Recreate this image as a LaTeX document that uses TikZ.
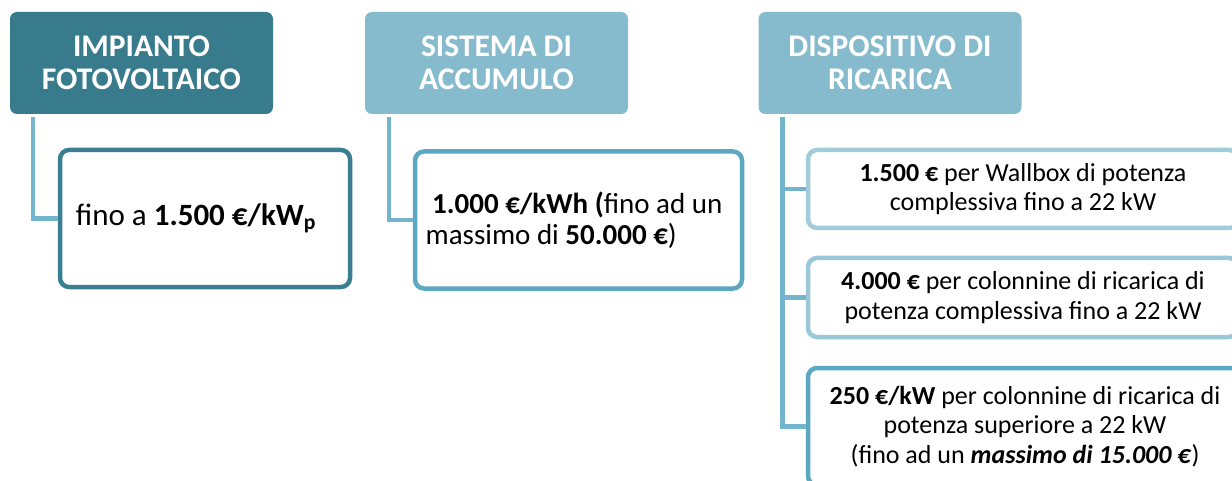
\documentclass[tikz,border=0pt]{standalone}
\usepackage{fontspec}
\setmainfont{Carlito}
\usetikzlibrary{calc}
\definecolor{hdark}{HTML}{377B8D}
\definecolor{hlight}{HTML}{86BBCE}
\definecolor{conn}{HTML}{72B5CD}
\definecolor{bdark}{HTML}{3A7F91}
\definecolor{bmid}{HTML}{5DA8C1}
\definecolor{bpale}{HTML}{A2CCDA}
\definecolor{bpale2}{HTML}{9AC8D7}
\tikzset{
  x=1pt, y=-1pt,
  header/.style={rectangle, rounded corners=7pt, inner sep=0pt, minimum width=263pt, minimum height=102pt,
    text=white, font=\fontsize{31.5}{32.5}\selectfont\bfseries, align=center},
  childbox/.style={rectangle, rounded corners=9pt, draw, line width=4.5pt, fill=white, inner sep=0pt,
    font=\fontsize{26}{29.5}\selectfont, text=black},
  conline/.style={draw=conn, line width=4.5pt},
}
\begin{document}
\begin{tikzpicture}
\useasboundingbox (0,0) rectangle (1232,481);
% headers
\node[header, fill=hdark] (h1) at (141.5,63) {IMPIANTO\\FOTOVOLTAICO};
\node[header, fill=hlight] (h2) at (496.5,63) {SISTEMA DI\\ACCUMULO};
\node[header, fill=hlight] (h3) at (890,63) {DISPOSITIVO DI\\RICARICA};
% children
\node[childbox, draw=bdark, minimum width=290pt, minimum height=137pt, font=\fontsize{31}{34}\selectfont] (c1) at (205,218.5)
  {fino a \textbf{1.500 €/kW\textsubscript{p}}\hspace*{18pt}};
\node[childbox, draw=bmid, minimum width=327pt, minimum height=137pt, align=left,
  font=\fontsize{29}{31.5}\selectfont] (c2) at (578.5,220)
  {\ \textbf{1.000 €/kWh (}fino ad un\hspace*{9pt}\\massimo di \textbf{50.000 €})};
\node[childbox, draw=bpale, minimum width=430pt, minimum height=78pt, align=center] (c3a) at (1023,189)
  {\textbf{1.500 €} per Wallbox di potenza\\complessiva fino a 22 kW};
\node[childbox, draw=bpale2, minimum width=430pt, minimum height=79pt, align=center] (c3b) at (1023,297.5)
  {\textbf{4.000 €} per colonnine di ricarica di\\potenza complessiva fino a 22 kW};
\node[childbox, draw=bmid, minimum width=434pt, minimum height=117pt, align=center] (c3c) at (1025,426.5)
  {\textbf{250 €/kW} per colonnine di ricarica di\\potenza superiore a 22 kW\\(fino ad un \textbf{\textit{massimo di 15.000 €}})};
% connectors
\coordinate (t1) at ($(h1.south west)+(23,3)$);
\coordinate (t2) at ($(h2.south west)+(24,3)$);
\coordinate (t3) at ($(h3.south west)+(24,3)$);
\draw[conline] (t1) |- (c1.west);
\draw[conline] (t2) |- (c2.west);
\draw[conline] (t3) |- (c3c.west);
\draw[conline] (t3 |- c3a.west) -- (c3a.west);
\draw[conline] (t3 |- c3b.west) -- (c3b.west);
\end{tikzpicture}
\end{document}
